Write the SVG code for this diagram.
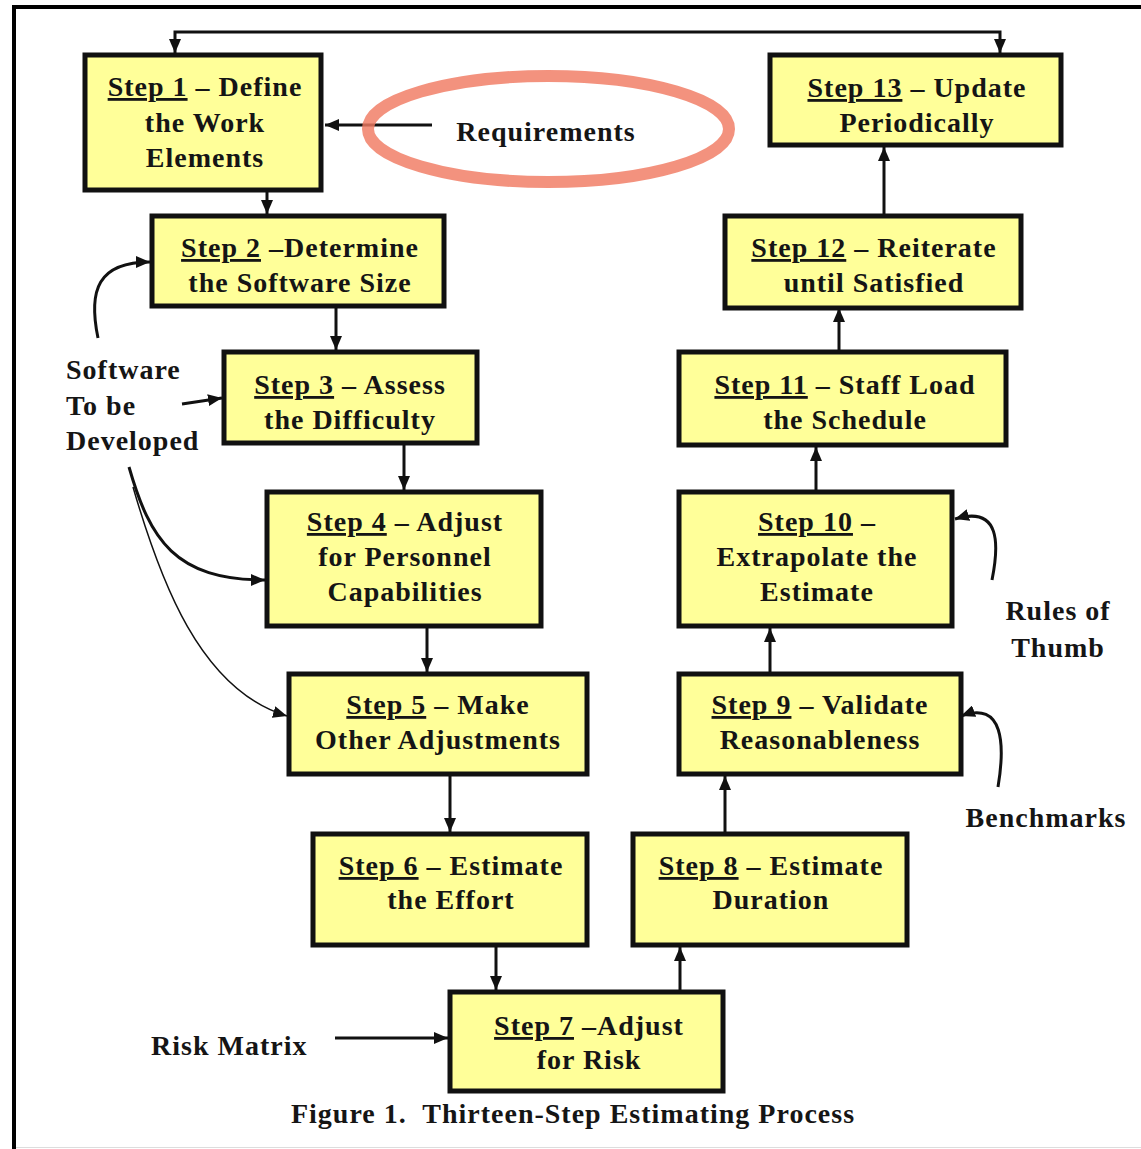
<svg xmlns="http://www.w3.org/2000/svg" width="1141" height="1149" viewBox="0 0 1141 1149">
  <style>
    .box { fill: #FFFF99; stroke: #111; stroke-width: 5; }
    .t { font-family: "Liberation Serif", "Times New Roman", serif; font-weight: bold; font-size: 28px; letter-spacing: 1px; fill: #151515; }
    .c { text-anchor: middle; }
    .u { text-decoration: underline; }
    .ln { fill: none; stroke: #111; stroke-width: 3; }
    .thin { fill: none; stroke: #111; stroke-width: 1.5; }
  </style>
  <defs>
    <marker id="arr" viewBox="0 0 14 12" refX="14" refY="6" markerWidth="14" markerHeight="12" markerUnits="userSpaceOnUse" orient="auto-start-reverse">
      <path d="M0,0 L14,6 L0,12 z" fill="#111"/>
    </marker>
  </defs>

  <rect width="1141" height="1149" fill="#fff"/>

  <!-- page frame -->
  <g id="frame">
    <line x1="14" y1="5" x2="14" y2="1149" stroke="#000" stroke-width="4"/>
    <line x1="12" y1="7" x2="1141" y2="7" stroke="#000" stroke-width="4"/>
    <line x1="16" y1="1147.5" x2="1141" y2="1147.5" stroke="#ddd" stroke-width="1"/>
  </g>

  <!-- connectors -->
  <g id="connectors">
    <path class="ln" d="M175,53 V32 H1000 V53" marker-start="url(#arr)" marker-end="url(#arr)"/>
    <path class="ln" d="M432,125 H325" marker-end="url(#arr)"/>
    <path class="ln" d="M267,192 V214" marker-end="url(#arr)"/>
    <path class="ln" d="M336,308 V350" marker-end="url(#arr)"/>
    <path class="ln" d="M404,445 V490" marker-end="url(#arr)"/>
    <path class="ln" d="M427,628 V672" marker-end="url(#arr)"/>
    <path class="ln" d="M450,776 V832" marker-end="url(#arr)"/>
    <path class="ln" d="M496,947 V990" marker-end="url(#arr)"/>
    <path class="ln" d="M680,990 V947" marker-end="url(#arr)"/>
    <path class="ln" d="M725,834 V776" marker-end="url(#arr)"/>
    <path class="ln" d="M770,674 V628" marker-end="url(#arr)"/>
    <path class="ln" d="M816,490 V447" marker-end="url(#arr)"/>
    <path class="ln" d="M839,352 V308" marker-end="url(#arr)"/>
    <path class="ln" d="M884,216 V147" marker-end="url(#arr)"/>
    <path class="ln" d="M335,1038 H448" marker-end="url(#arr)"/>
    <!-- software inputs -->
    <path class="ln" d="M98,338 C88,290 98,262 150,262" marker-end="url(#arr)"/>
    <path class="ln" d="M182,404 L222,398" marker-end="url(#arr)"/>
    <path class="ln" d="M129,467 C150,540 175,580 265,580" marker-end="url(#arr)"/>
    <path class="thin" d="M133,487 C160,580 200,690 287,716" marker-end="url(#arr)"/>
    <!-- rules of thumb / benchmarks -->
    <path class="ln" d="M992,580 C999,545 1001,505 955,519" marker-end="url(#arr)"/>
    <path class="ln" d="M998,787 C1005,745 1004,700 961,716" marker-end="url(#arr)"/>
  </g>

  <!-- highlight ring -->
  <ellipse cx="548.5" cy="129" rx="180.5" ry="53" fill="none" stroke="#F07A62" stroke-opacity="0.82" stroke-width="12"/>

  <g id="requirements">
    <text class="t c" x="546" y="141">Requirements</text>
  </g>

  <g id="step1">
    <rect class="box" x="85" y="55" width="236" height="135"/>
    <text class="t c" x="205" y="96"><tspan class="u">Step 1</tspan> – Define</text>
    <text class="t c" x="205" y="132">the Work</text>
    <text class="t c" x="205" y="167">Elements</text>
  </g>

  <g id="step13">
    <rect class="box" x="770" y="55" width="291" height="90"/>
    <text class="t c" x="917" y="97"><tspan class="u">Step 13</tspan> – Update</text>
    <text class="t c" x="917" y="132">Periodically</text>
  </g>

  <g id="step2">
    <rect class="box" x="152" y="216" width="292" height="90"/>
    <text class="t c" x="300" y="257"><tspan class="u">Step 2</tspan> –Determine</text>
    <text class="t c" x="300" y="292">the Software Size</text>
  </g>

  <g id="step12">
    <rect class="box" x="725" y="216" width="296" height="92"/>
    <text class="t c" x="874" y="257"><tspan class="u">Step 12</tspan> – Reiterate</text>
    <text class="t c" x="874" y="292">until Satisfied</text>
  </g>

  <g id="step3">
    <rect class="box" x="224" y="352" width="253" height="91"/>
    <text class="t c" x="350" y="394"><tspan class="u">Step 3</tspan> – Assess</text>
    <text class="t c" x="350" y="429">the Difficulty</text>
  </g>

  <g id="step11">
    <rect class="box" x="679" y="352" width="327" height="93"/>
    <text class="t c" x="845" y="394"><tspan class="u">Step 11</tspan> – Staff Load</text>
    <text class="t c" x="845" y="429">the Schedule</text>
  </g>

  <g id="software">
    <text class="t" x="66" y="379">Software</text>
    <text class="t" x="66" y="415">To be</text>
    <text class="t" x="66" y="450">Developed</text>
  </g>

  <g id="step4">
    <rect class="box" x="267" y="492" width="274" height="134"/>
    <text class="t c" x="405" y="531"><tspan class="u">Step 4</tspan> – Adjust</text>
    <text class="t c" x="405" y="566">for Personnel</text>
    <text class="t c" x="405" y="601">Capabilities</text>
  </g>

  <g id="step10">
    <rect class="box" x="679" y="492" width="273" height="134"/>
    <text class="t c" x="817" y="531"><tspan class="u">Step 10</tspan> –</text>
    <text class="t c" x="817" y="566">Extrapolate the</text>
    <text class="t c" x="817" y="601">Estimate</text>
  </g>

  <g id="rules">
    <text class="t c" x="1058" y="620">Rules of</text>
    <text class="t c" x="1058" y="657">Thumb</text>
  </g>

  <g id="step5">
    <rect class="box" x="289" y="674" width="298" height="100"/>
    <text class="t c" x="438" y="714"><tspan class="u">Step 5</tspan> – Make</text>
    <text class="t c" x="438" y="749">Other Adjustments</text>
  </g>

  <g id="step9">
    <rect class="box" x="679" y="674" width="282" height="100"/>
    <text class="t c" x="820" y="714"><tspan class="u">Step 9</tspan> – Validate</text>
    <text class="t c" x="820" y="749">Reasonableness</text>
  </g>

  <g id="benchmarks">
    <text class="t c" x="1046" y="827">Benchmarks</text>
  </g>

  <g id="step6">
    <rect class="box" x="313" y="834" width="274" height="111"/>
    <text class="t c" x="451" y="875"><tspan class="u">Step 6</tspan> – Estimate</text>
    <text class="t c" x="451" y="909">the Effort</text>
  </g>

  <g id="step8">
    <rect class="box" x="633" y="834" width="274" height="111"/>
    <text class="t c" x="771" y="875"><tspan class="u">Step 8</tspan> – Estimate</text>
    <text class="t c" x="771" y="909">Duration</text>
  </g>

  <g id="risk">
    <text class="t" x="151" y="1055">Risk Matrix</text>
  </g>

  <g id="step7">
    <rect class="box" x="450" y="992" width="273" height="99"/>
    <text class="t c" x="589" y="1035"><tspan class="u">Step 7</tspan> –Adjust</text>
    <text class="t c" x="589" y="1069">for Risk</text>
  </g>

  <g id="caption">
    <text class="t c" x="573" y="1123">Figure 1.&#160; Thirteen-Step Estimating Process</text>
  </g>
</svg>
